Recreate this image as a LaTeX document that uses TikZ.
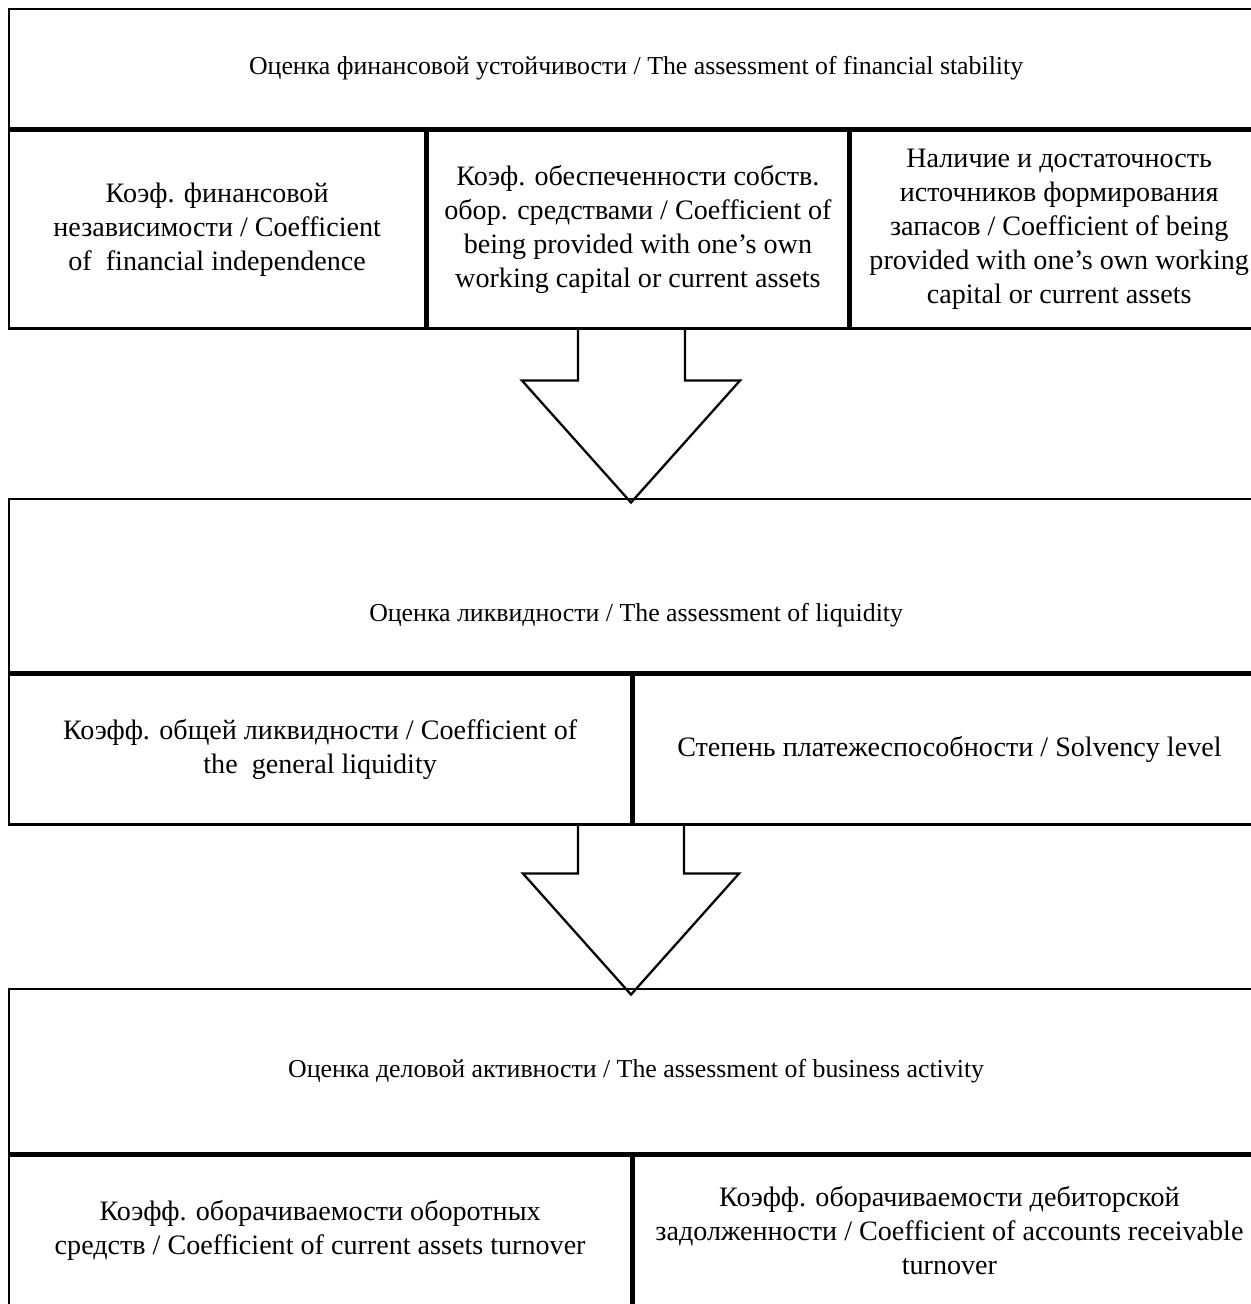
\documentclass[tikz,border=0pt]{standalone}
\usepackage{fontspec}
\setmainfont{Liberation Serif}
\usetikzlibrary{positioning}
\newcommand{\headfont}{\fontsize{14.7}{17.5}\selectfont}
\newcommand{\cellfont}{\fontsize{16}{19.3}\selectfont}

\begin{document}
\begin{tikzpicture}[x=0.2mm,y=-0.2mm]
	\tikzset{boxsize/.style 2 args={minimum width=#1*0.2mm,minimum height=#2*0.2mm}}
	\tikzset{headbox/.style={draw,line width=1.3pt,inner sep=0pt,align=center,font=\headfont}}
	\tikzset{cellbox/.style={draw,line width=1.3pt,inner sep=0pt,align=center,font=\cellfont}}
	\tikzset{blockarrow/.style={draw,line width=1.3pt,line join=miter}}
	\useasboundingbox (0,0) rectangle (1250,1304);
	% financial stability
	\node[headbox,boxsize={1254}{119},anchor=north west] (fin) at (8,8)
		{Оценка финансовой устойчивости / The assessment of financial stability};
	\node[cellbox,boxsize={416}{198},below right=0pt of fin.south west] (fin1)
		{Коэф. финансовой\\независимости / Coefficient\\of~ financial independence};
	\node[cellbox,boxsize={421}{198},right=0pt of fin1] (fin2)
		{Коэф. обеспеченности собств.\\обор. средствами / Coefficient of\\being provided with one’s own\\working capital or current assets};
	\node[cellbox,boxsize={417}{198},right=0pt of fin2] (fin3)
		{Наличие и достаточность\\источников формирования\\запасов / Coefficient of being\\provided with one’s own working\\capital or current assets};
	\coordinate (a1) at (fin1.south -| 631,0);
	\draw[blockarrow] (a1) ++(-53,0) -- ++(0,51) -- ++(-56,0) -- ++(109,122) -- ++(109,-122) -- ++(-55,0) -- ++(0,-51);
	% liquidity
	\node[headbox,boxsize={1254}{173},anchor=north west,text height=44pt,text depth=3pt] (liq) at (8,498)
		{Оценка ликвидности / The assessment of liquidity};
	\node[cellbox,boxsize={622}{150},below right=0pt of liq.south west] (liq1)
		{Коэфф. общей ликвидности / Coefficient of\\the~ general liquidity};
	\node[cellbox,boxsize={632}{150},right=0pt of liq1] (liq2)
		{Степень платежеспособности / Solvency level};
	\coordinate (a2) at (liq1.south -| 631,0);
	\draw[blockarrow] (a2) ++(-53,0) -- ++(0,48) -- ++(-55,0) -- ++(108,121) -- ++(108,-121) -- ++(-55,0) -- ++(0,-48);
	% business activity
	\node[headbox,boxsize={1254}{164},anchor=north west] (act) at (8,988)
		{Оценка деловой активности / The assessment of business activity};
	\node[cellbox,boxsize={622}{150},below right=0pt of act.south west] (act1)
		{Коэфф. оборачиваемости оборотных\\средств / Coefficient of current assets turnover};
	\node[cellbox,boxsize={632}{150},right=0pt of act1] (act2)
		{Коэфф. оборачиваемости дебиторской\\задолженности / Coefficient of accounts receivable\\turnover};
\end{tikzpicture}
\end{document}
